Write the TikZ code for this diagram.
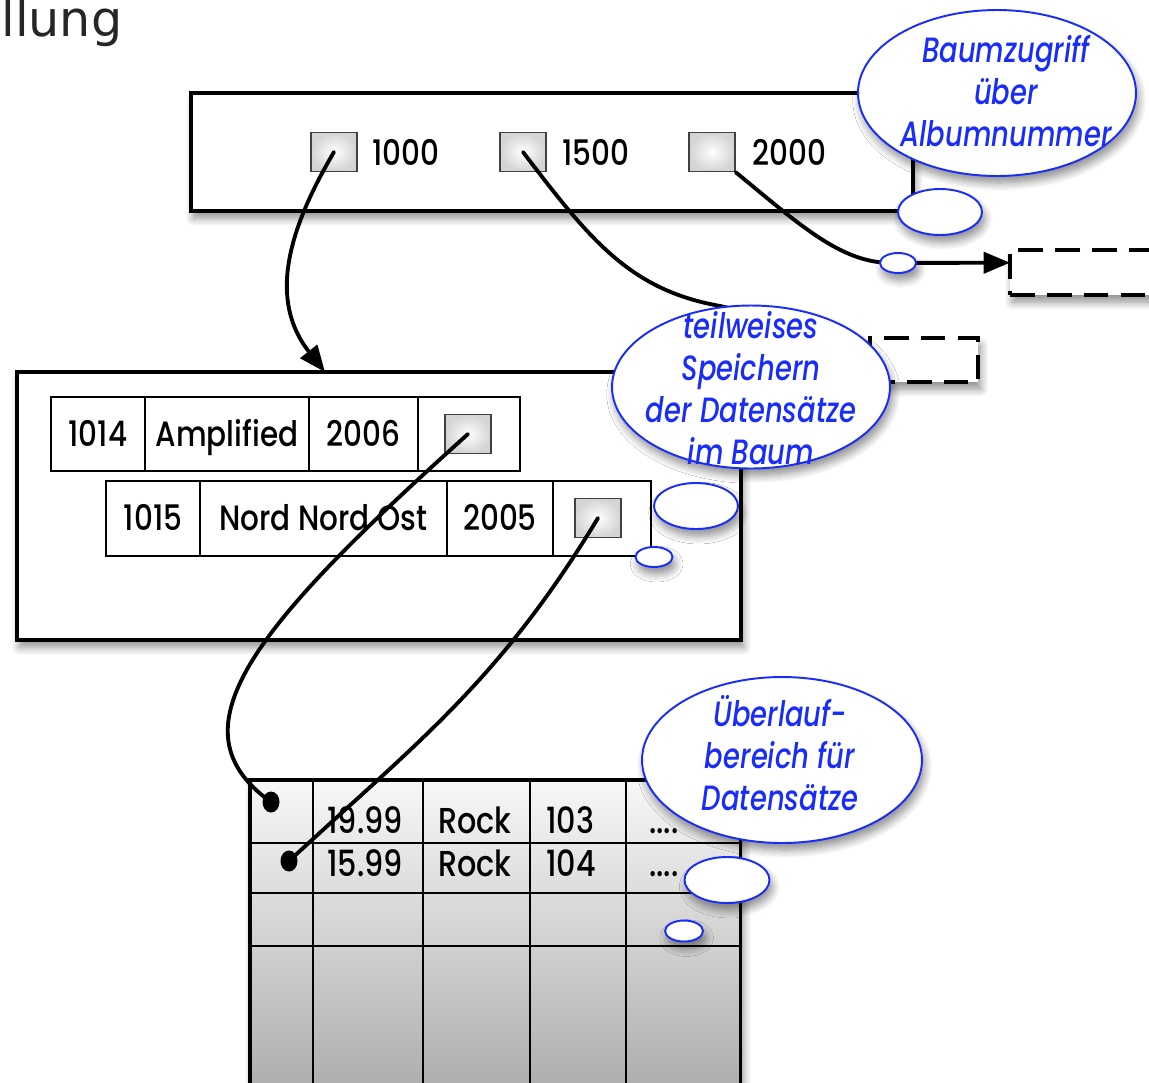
\documentclass[tikz,border=0pt]{standalone}
\usepackage{fontspec}
\setmainfont{Poppins}
\newfontfamily\futf[FakeStretch=0.84]{Poppins Medium}
\newfontfamily\futi[FakeStretch=0.78]{Poppins Medium Italic}
\newfontfamily\titlefont{DejaVu Sans}
\usetikzlibrary{shapes.geometric,arrows.meta,shadows.blur}
\definecolor{noteblue}{RGB}{25,45,250}

\tikzset{
  softshadow/.style={blur shadow={shadow xshift=1.5pt, shadow yshift=-4pt,
      shadow blur radius=4.5pt, shadow blur steps=8, shadow opacity=45}},
  frame/.style={draw, line width=2.3pt, fill=white, inner sep=0, outer sep=0,
      anchor=north west, softshadow},
  dashbox/.style={draw, line width=2.3pt, dash pattern=on 14pt off 7pt, fill=white,
      inner sep=0, outer sep=0, anchor=north west, softshadow},
  ptrsq/.style={draw=black!75, line width=0.9pt, minimum width=0.92cm,
      minimum height=0.78cm, inner sep=0, inner color=white, outer color=black!17},
  num/.style={font=\futf\fontsize{20}{24}\selectfont, anchor=west, inner sep=0},
  cell/.style={draw, line width=0.9pt, inner sep=0, outer sep=0, anchor=west,
      font=\futf\fontsize{20}{24}\selectfont, text height=14pt, text depth=0pt},
  tabtext/.style={font=\futf\fontsize{20.5}{24}\selectfont, anchor=base west, inner sep=0},
  link/.style={line width=2.2pt, line cap=round},
  tip/.style={-{Triangle[length=15pt,width=12pt]}},
  dotend/.style={ellipse, fill=black, minimum width=0.34cm, minimum height=0.42cm, inner sep=0},
  note/.style={ellipse, draw=noteblue, line width=1.1pt, fill=white, inner sep=0, softshadow},
  notetext/.style={font=\futi\fontsize{20}{23.8}\selectfont, text=noteblue,
      align=center, inner sep=0},
}

\begin{document}
\begin{tikzpicture}[x=0.02cm, y=-0.02cm]
\useasboundingbox (0,0) rectangle (1149,1082);
\clip (0,0) rectangle (1149,1082);

% heading fragment
\node[anchor=base west, font=\titlefont\fontsize{28}{32}\selectfont, text=black!85, inner sep=0] (title) at (1,36) {llung};

% root node of the tree
\node[frame, minimum width=14.44cm, minimum height=2.36cm] (root) at (191,93) {};
\node[ptrsq] (s1000) at (334,152) {};
\node[ptrsq] (s1500) at (523,152) {};
\node[ptrsq] (s2000) at (712,152) {};
\node[num] (k1000) at (372,152) {1000};
\node[num] (k1500) at (562,152) {1500};
\node[num] (k2000) at (752,152) {2000};

% further child nodes
\node[dashbox, minimum width=3.2cm, minimum height=0.9cm] (db1) at (1010,250) {};
\node[dashbox, minimum width=2.16cm, minimum height=0.88cm] (db2) at (870,338) {};

% leaf with records
\node[frame, minimum width=14.48cm, minimum height=5.36cm] (leaf) at (17,372) {};
\node[cell, minimum width=1.88cm, minimum height=1.48cm] (a1) at (51,434) {1014};
\node[cell, minimum width=3.28cm, minimum height=1.48cm] (a2) at (a1.east) {Amplified};
\node[cell, minimum width=2.18cm, minimum height=1.48cm] (a3) at (a2.east) {2006};
\node[cell, minimum width=2.04cm, minimum height=1.48cm] (a4) at (a3.east) {};
\node[ptrsq] (p1) at (468,434) {};

\node[cell, minimum width=1.88cm, minimum height=1.5cm] (b1) at (106,518.5) {1015};
\node[cell, minimum width=4.94cm, minimum height=1.5cm] (b2) at (b1.east) {Nord Nord Ost};
\node[cell, minimum width=2.12cm, minimum height=1.5cm] (b3) at (b2.east) {2005};
\node[cell, minimum width=1.96cm, minimum height=1.5cm] (b4) at (b3.east) {};
\node[ptrsq] (p2) at (598,518) {};

% overflow area
\node[draw, line width=1.8pt, inner sep=0, outer sep=0, anchor=north west,
      minimum width=9.82cm, minimum height=6.2cm,
      top color=black!3, bottom color=black!32, softshadow] (tbl) at (250,780) {};
\begin{scope}[line width=1.1pt]
  \foreach \cx in {313,423,530,626} \draw (\cx,780) -- (\cx,1090);
  \foreach \ry in {843,893,946} \draw (250,\ry) -- (741,\ry);
\end{scope}
\node[tabtext] (r1c1) at (327,833) {19.99};
\node[tabtext] (r1c2) at (438,833) {Rock};
\node[tabtext] (r1c3) at (546,833) {103};
\node[tabtext] (r1c4) at (649,833) {....};
\node[tabtext] (r2c1) at (327,876) {15.99};
\node[tabtext] (r2c2) at (438,876) {Rock};
\node[tabtext] (r2c3) at (546,876) {104};
\node[tabtext] (r2c4) at (649,876) {....};
\node[dotend] (d1) at (271,802) {};
\node[dotend] (d2) at (289,861) {};

% pointers
\coordinate (leafin) at (325,372);
\draw[link, tip] (s1000.center) .. controls (288,230) and (268,300) .. (leafin);
\draw[link, tip] (s1500.center) .. controls (590,240) and (630,290) .. (720,306)
      .. controls (790,322) .. (db2.west);
\draw[link, tip] (s2000.south east) .. controls (800,225) and (840,262) .. (890,263)
      -- (db1.173);
\draw[link] (p1.center) .. controls (250,630) and (170,730) .. (d1.center);
\draw[link] (p2.center) .. controls (500,680) and (420,740) .. (d2.center);

% callouts
\node[note, minimum width=5.56cm, minimum height=3.32cm] (n1) at (997,93) {};
\node[note, minimum width=1.68cm, minimum height=0.92cm] (n1b) at (940,212) {};
\node[note, minimum width=0.72cm, minimum height=0.40cm] (n1c) at (898,263) {};
\node[notetext] (t1) at (1006,91) {Baumzugriff\\über\\Albumnummer};

\node[note, minimum width=5.56cm, minimum height=3.26cm] (n2) at (751,387) {};
\node[note, minimum width=1.68cm, minimum height=0.92cm] (n2b) at (696,506) {};
\node[note, minimum width=0.74cm, minimum height=0.40cm] (n2c) at (654,557) {};
\node[notetext] (t2) at (751,388) {teilweises\\Speichern\\der Datensätze\\im Baum};

\node[note, minimum width=5.6cm, minimum height=3.32cm] (n3) at (782,760) {};
\node[note, minimum width=1.7cm, minimum height=0.92cm] (n3b) at (727,880) {};
\node[note, minimum width=0.76cm, minimum height=0.42cm] (n3c) at (684,931) {};
\node[notetext] (t3) at (780,753) {Überlauf-\\bereich für\\Datensätze};
\end{tikzpicture}
\end{document}
